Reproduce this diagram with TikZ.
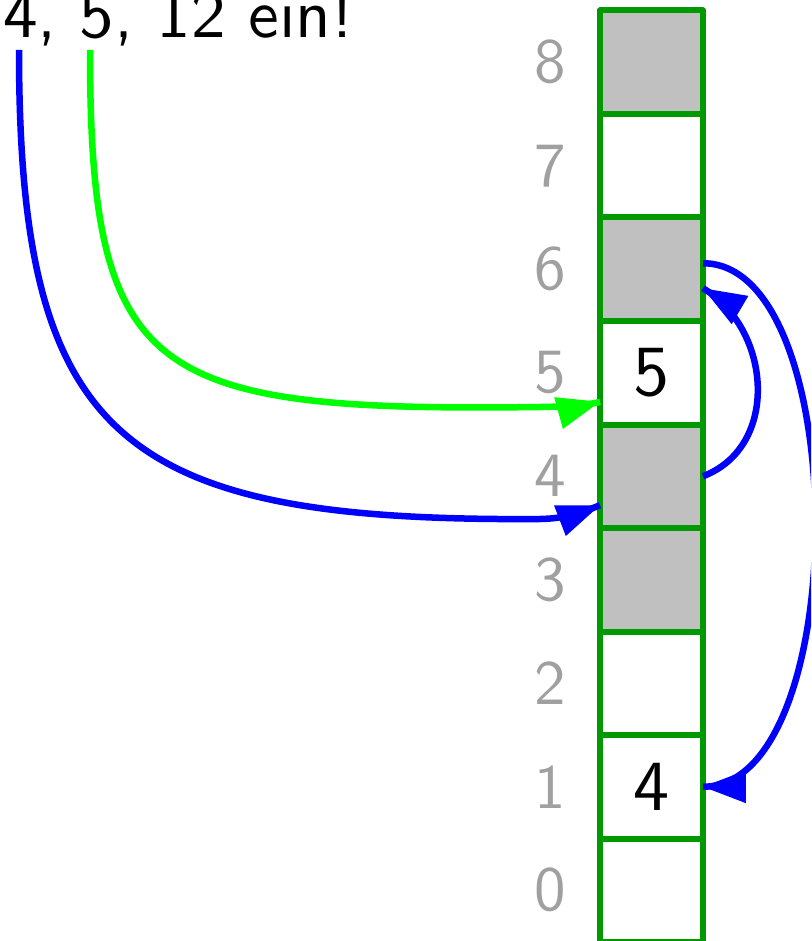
\documentclass[tikz,border=0pt]{standalone}
\usepackage{fontspec}
\newfontfamily\lmten{lmsans10-regular.otf}
\usetikzlibrary{arrows.meta}
\definecolor{cellgreen}{RGB}{0,153,0}
\definecolor{argreen}{RGB}{0,255,0}
\definecolor{arblue}{RGB}{0,0,255}
\definecolor{cellgray}{RGB}{192,192,192}
\definecolor{labgray}{RGB}{160,160,160}
\begin{document}
\begin{tikzpicture}[x=1pt,y=-1pt,
  cell/.style={draw=cellgreen, line width=6pt, line join=round, minimum width=103pt, minimum height=103.5pt,
    inner sep=0pt, outer sep=0pt, font=\lmten\fontsize{72}{80}\selectfont},
  full/.style={cell, fill=cellgray},
  empty/.style={cell, fill=white},
  lab/.style={text=labgray, font=\lmten\fontsize{63}{70}\selectfont, inner sep=0pt},
  conn/.style={line width=6.5pt, postaction={draw, draw opacity=0, line width=0.1pt, -{Triangle[length=43pt,width=33pt]}}}]
\useasboundingbox (0,0) rectangle (811,941);
\begin{scope}
\clip (0,0) rectangle (811,941);
\foreach \i/\s/\t in {8/full/,7/empty/,6/full/,5/empty/5,4/full/,3/full/,2/empty/,1/empty/4,0/empty/}{
  \node[\s] (c\i) at (651.5, {372.75+(5-\i)*103.5}) {\t};
  \node[lab] (l\i) at (550, {372.75+(5-\i)*103.5}) {\i};
}
\node[anchor=base west, inner sep=0pt, font=\lmten\fontsize{69}{80}\selectfont] (title) at (3,38) {4, 5, 12 ein!};
\coordinate (s4) at (19,50);
\coordinate (s5) at (90,50);
\coordinate (b4) at (540,519);
\coordinate (g5) at (540,407);
\draw[conn, arblue] (s4) .. controls +(0,390) and +(-420,3) .. (b4)
   .. controls +(30,-0.5) and +(-13,5) .. ([yshift=-29pt]c4.west);
\draw[conn, argreen] (s5) .. controls +(0,330) and +(-390,5) .. (g5)
   .. controls +(35,-0.5) and +(-11,3) .. ([yshift=-29pt]c5.west);
\draw[conn, arblue] (c4.east) .. controls +(78,-30) and +(68,40) .. ([yshift=-19pt]c6.east);
\draw[conn, arblue] ([yshift=6pt]c6.east) .. controls +(150,0) and +(150,0) .. (c1.east);
\end{scope}
\end{tikzpicture}
\end{document}
